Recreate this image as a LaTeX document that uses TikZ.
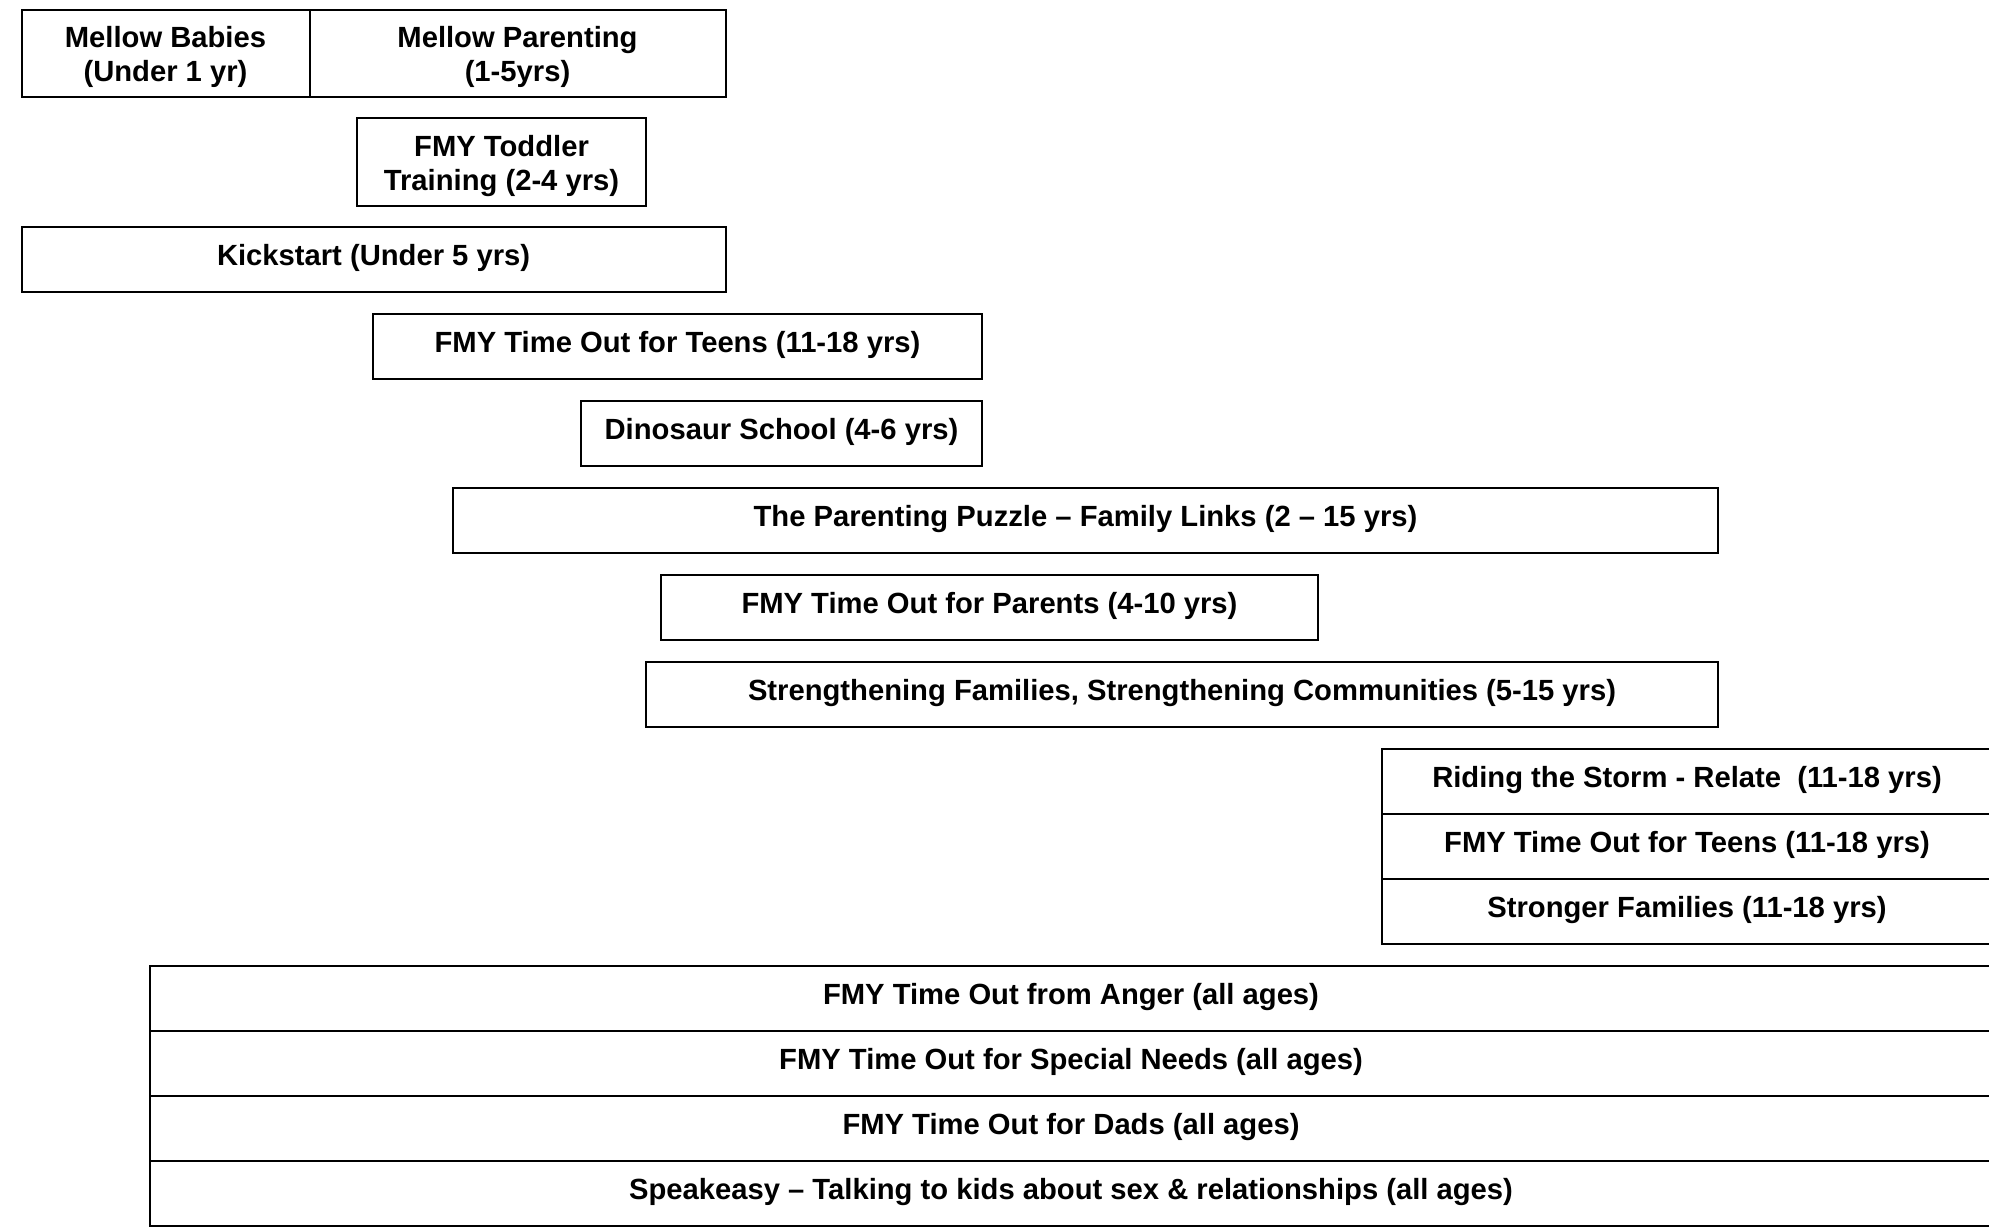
\documentclass[tikz,border=0pt]{standalone}
\usepackage{fontspec}
\setmainfont{Liberation Sans}
\usetikzlibrary{positioning}

\tikzset{
    prog/.style={draw, line width=1pt, rectangle, inner sep=0pt, outer sep=0pt, align=center,
        font=\bfseries\fontsize{14.6pt}{17pt}\selectfont, text height=19pt, text depth=13.5pt},
    twoline/.style={text height=36pt, text depth=7.5pt}
}

\begin{document}
\begin{tikzpicture}[x=0.5pt,y=0.5pt,yscale=-1,xscale=1]
    \useasboundingbox (0,0) rectangle (1989,1231);

    %Shape: Rectangle [id:mellow]
    \node [prog, twoline, minimum width=144pt] (babies) at (165.5,53.25) {Mellow Babies\\(Under 1 yr)};
    \node [prog, twoline, minimum width=208pt, right=0pt of babies] (mellowpar) {Mellow Parenting\\(1-5yrs)};
    %Shape: Rectangle [id:toddler]
    \node [prog, text height=36pt, text depth=8pt, minimum width=144.5pt] (toddler) at (501.5,162) {FMY Toddler\\Training (2-4 yrs)};
    %Shape: Rectangle [id:kickstart]
    \node [prog, minimum width=352pt] (kickstart) at (373.6,259.5) {Kickstart (Under 5 yrs)};
    %Shape: Rectangle [id:teens]
    \node [prog, minimum width=304.5pt] (teens) at (677.5,346.5) {FMY Time Out for Teens (11-18 yrs)};
    %Shape: Rectangle [id:dino]
    \node [prog, minimum width=200.5pt] (dino) at (781.5,433.5) {Dinosaur School (4-6 yrs)};
    %Shape: Rectangle [id:puzzle]
    \node [prog, minimum width=632.5pt] (puzzle) at (1085.5,520.5) {The Parenting Puzzle -- Family Links (2 -- 15 yrs)};
    %Shape: Rectangle [id:parents]
    \node [prog, minimum width=328.5pt] (parents) at (989.5,607.5) {FMY Time Out for Parents (4-10 yrs)};
    %Shape: Rectangle [id:strength]
    \node [prog, minimum width=536pt] (strength) at (1182,694.5) {Strengthening Families, Strengthening Communities (5-15 yrs)};

    % teenage stack
    \node [prog, minimum width=305pt] (storm) at (1687,781.5) {Riding the Storm - Relate\ \ (11-18 yrs)};
    \node [prog, minimum width=305pt, below=0pt of storm] (teensb) {FMY Time Out for Teens (11-18 yrs)};
    \node [prog, minimum width=305pt, below=0pt of teensb] (stronger) {Stronger Families (11-18 yrs)};

    % all ages stack
    \node [prog, minimum width=921pt] (anger) at (1071,998.5) {FMY Time Out from Anger (all ages)};
    \node [prog, minimum width=921pt, below=0pt of anger] (special) {FMY Time Out for Special Needs (all ages)};
    \node [prog, minimum width=921pt, below=0pt of special] (dads) {FMY Time Out for Dads (all ages)};
    \node [prog, minimum width=921pt, below=0pt of dads] (speakeasy) {Speakeasy -- Talking to kids about sex \& relationships (all ages)};

\end{tikzpicture}
\end{document}
